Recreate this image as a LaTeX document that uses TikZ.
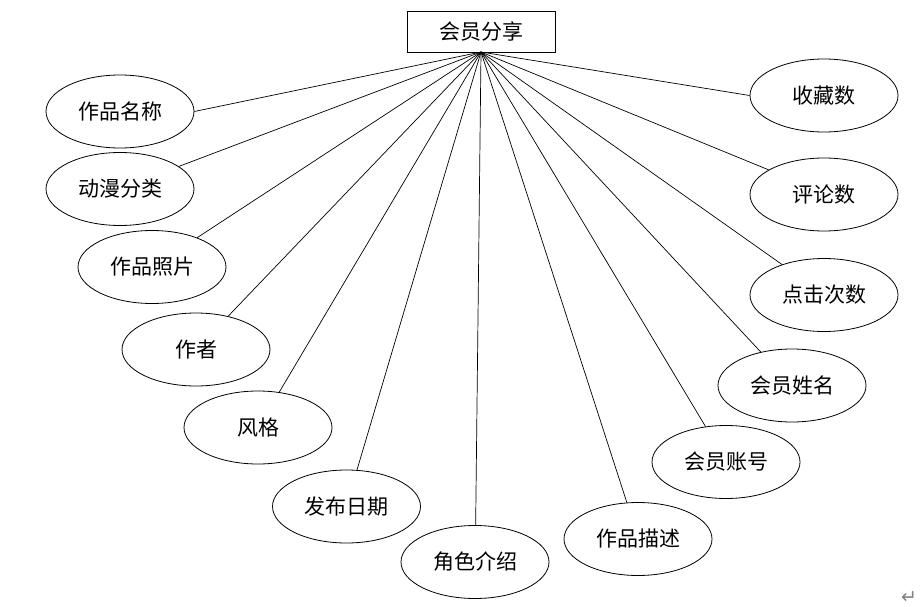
\documentclass[tikz,border=0pt]{standalone}
\usepackage{fontspec}
\newfontfamily\cjk{Noto Sans CJK SC}
\newfontfamily\symf{DejaVu Sans}
\usetikzlibrary{shapes.geometric}
\begin{document}
\begin{tikzpicture}[x=1pt,y=-1pt,
  attr/.style={draw, ellipse, line width=0.8pt, minimum width=148pt, minimum height=73pt, inner sep=0pt, font=\cjk\fontsize{21}{25}\selectfont},
  ent/.style={draw, rectangle, line width=0.8pt, minimum width=148pt, minimum height=41pt, inner sep=0pt, font=\cjk\fontsize{21}{25}\selectfont},
  link/.style={line width=0.7pt}]
\useasboundingbox (0,0) rectangle (923,607);
\node[ent] (e) at (481,31.5) {会员分享};
\coordinate (hub) at (481,52);
\node[attr] (a1) at (120,111.5) {作品名称};
\node[attr] (a2) at (120,189) {动漫分类};
\node[attr] (a3) at (152,267) {作品照片};
\node[attr] (a4) at (196,349.5) {作者};
\node[attr] (a5) at (258,427.5) {风格};
\node[attr] (a6) at (346.5,506.5) {发布日期};
\node[attr] (a7) at (475,562) {角色介绍};
\node[attr] (a8) at (638,539) {作品描述};
\node[attr] (a9) at (726,462) {会员账号};
\node[attr] (a10) at (792,385.5) {会员姓名};
\node[attr] (a11) at (824,295) {点击次数};
\node[attr] (a12) at (824,194.5) {评论数};
\node[attr] (a13) at (824,95.5) {收藏数};
\draw[link] (hub) -- (a1.0);
\draw[link] (hub) -- (a2.21);
\draw[link] (hub) -- (a3.33);
\draw[link] (hub) -- (a4.46);
\draw[link] (hub) -- (a5.59);
\draw[link] (hub) -- (a6.74);
\draw[link] (hub) -- (a7.89);
\draw[link] (hub) -- (a8.107);
\draw[link] (hub) -- (a9.120);
\draw[link] (hub) -- (a10.133);
\draw[link] (hub) -- (a11.144);
\draw[link] (hub) -- (a12.156);
\draw[link] (hub) -- (a13.180);
\node[text=gray, font=\symf\fontsize{19}{19}\selectfont, inner sep=0pt] (pm) at (909,598) {↵};
\end{tikzpicture}
\end{document}
